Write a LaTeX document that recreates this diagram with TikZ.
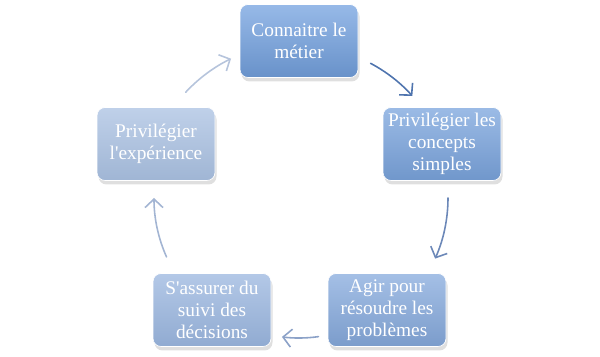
\documentclass[tikz,border=0pt]{standalone}
\usepackage{fontspec}
\setmainfont{Liberation Serif}
\usepackage{tikz}
\usetikzlibrary{arrows.meta,calc,shadows}
\definecolor{boxa}{HTML}{74A2E0}
\definecolor{boxb}{HTML}{7AA4DD}
\definecolor{boxc}{HTML}{86AADD}
\definecolor{boxd}{HTML}{9AB6DF}
\definecolor{boxe}{HTML}{AAC1E2}
\definecolor{arra}{HTML}{4F74AE}
\definecolor{arrb}{HTML}{6C88B8}
\definecolor{arrc}{HTML}{8CA2C8}
\definecolor{arrd}{HTML}{A3B5D3}
\definecolor{arre}{HTML}{B6C4DC}
\tikzset{
    every picture/.style={line cap=round,line join=round},
    cyclebox/.style={draw=white,line width=0.4pt,rounded corners=1.6mm,
      minimum width=23.6mm,minimum height=14.6mm,inner sep=1pt,
      font=\fontsize{11}{12.5}\selectfont,text=white,align=center,
      drop shadow={opacity=0.25,shadow xshift=0.3mm,shadow yshift=-0.8mm}},
    cyclearrow/.style={-{Straight Barb[length=1.7mm,width=3.6mm]},line width=0.9pt}
}
\begin{document}
\begin{tikzpicture}
  \useasboundingbox (0,0) rectangle (12,7.14);
  \coordinate (ctr) at (5.98,3.18);
  % the five steps
  \node[cyclebox,top color=boxa!75!white,bottom color=boxa!90!black] (metier) at (5.98,6.32){Connaitre le\\métier};
  \node[cyclebox,top color=boxb!75!white,bottom color=boxb!92!black] (concepts) at (8.84,4.26){Privilégier les\\concepts\\simples};
  \node[cyclebox,top color=boxc!75!white,bottom color=boxc!92!black] (agir) at (7.74,0.94){Agir pour\\résoudre les\\problèmes};
  \node[cyclebox,top color=boxd!75!white,bottom color=boxd!94!black] (suivi) at (4.24,0.94){S\textquotesingle assurer du\\suivi des\\décisions};
  \node[cyclebox,top color=boxe!75!white,bottom color=boxe!94!black] (experience) at (3.12,4.26){Privilégier\\l\textquotesingle expérience};
  % arrow ends on the circle
  \coordinate (s1) at ($(ctr)+(62:3.05)$);
  \coordinate (s2) at ($(ctr)+(0:2.98)$);
  \coordinate (s3) at ($(ctr)+(-82:2.80)$);
  \coordinate (s4) at ($(ctr)+(-156:2.9)$);
  \coordinate (s5) at ($(ctr)+(137:3.1)$);
  \draw[cyclearrow,arra] (s1) arc[start angle=62,end angle=42,radius=3.05];
  \draw[cyclearrow,arrb] (s2) arc[start angle=0,end angle=-24,radius=2.98];
  \draw[cyclearrow,arrc] (s3) arc[start angle=-82,end angle=-97,radius=2.80];
  \draw[cyclearrow,arrd] (s4) arc[start angle=-156,end angle=-180,radius=2.9];
  \draw[cyclearrow,arre] (s5) arc[start angle=137,end angle=116,radius=3.1];
\end{tikzpicture}
\end{document}
